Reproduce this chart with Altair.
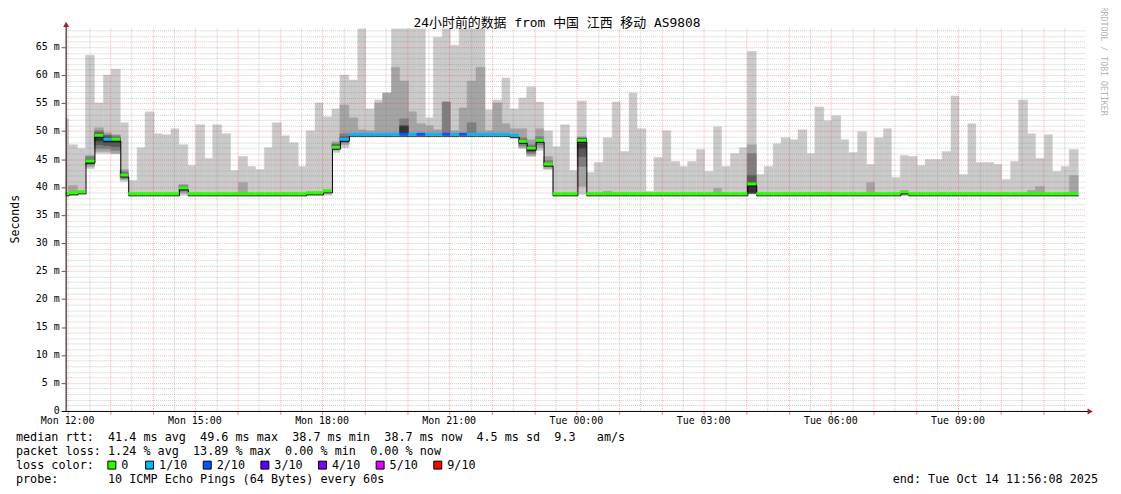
import altair as alt
import pandas as pd

# ---------------- data ----------------
FIRST_BAR_START = -10.5   # minutes after Mon 12:00
BAR_MINUTES = 12

smoke_hi = [
    52.2, 47.6, 46.9, 63.6, 55.0, 60.1, 61.0, 51.5, 41.2, 47.1,
    53.5, 49.6, 49.4, 50.4, 47.5, 43.8, 51.2, 45.1, 51.2, 49.6,
    43.0, 45.5, 43.6, 43.2, 47.0, 51.5, 49.2, 48.0, 43.6, 50.1,
    55.0, 52.6, 53.9, 60.1, 59.2, 68.4, 54.0, 55.6, 56.9, 68.4,
    68.4, 68.4, 68.4, 52.4, 66.8, 68.4, 65.4, 68.4, 68.4, 68.4,
    53.8, 55.6, 59.5, 54.0, 56.0, 57.9, 55.3, 50.1, 47.3, 51.1,
    43.0, 55.4, 42.7, 44.4, 48.8, 55.3, 46.4, 56.8, 50.5, 39.3,
    45.2, 50.0, 44.6, 43.6, 44.5, 46.7, 42.8, 50.7, 43.6, 46.0,
    47.0, 64.2, 42.3, 43.7, 47.8, 48.8, 48.5, 50.3, 45.9, 54.4,
    51.9, 52.8, 48.5, 46.2, 49.9, 44.0, 48.9, 50.4, 41.7, 45.7,
    45.4, 43.9, 45.0, 45.0, 46.4, 56.3, 42.3, 51.4, 44.4, 44.4,
    44.0, 41.4, 44.6, 55.6, 49.6, 45.1, 49.4, 42.8, 43.7, 46.7,
]

smoke_lo = [
    38.6, 38.6, 38.8, 43.3, 46.0, 45.9, 46.0, 41.0, 38.6, 38.6,
    38.6, 38.6, 38.6, 38.6, 38.6, 38.6, 38.6, 38.6, 38.6, 38.6,
    38.6, 38.6, 38.6, 38.6, 38.6, 38.6, 38.6, 38.6, 38.6, 38.6,
    38.6, 38.6, 46.1, 47.0, 49.1, 49.1, 49.1, 49.1, 49.1, 49.1,
    49.1, 49.1, 49.1, 49.1, 49.1, 49.1, 49.1, 49.1, 49.1, 49.1,
    49.1, 49.1, 49.1, 48.6, 46.8, 45.4, 46.6, 43.1, 38.6, 38.6,
    38.6, 38.7, 38.6, 38.6, 38.6, 38.6, 38.6, 38.6, 38.6, 38.6,
    38.6, 38.6, 38.6, 38.6, 38.6, 38.6, 38.6, 38.6, 38.6, 38.6,
    38.6, 38.7, 38.6, 38.6, 38.6, 38.6, 38.6, 38.6, 38.6, 38.6,
    38.6, 38.6, 38.6, 38.6, 38.6, 38.6, 38.6, 38.6, 38.6, 38.6,
    38.6, 38.6, 38.6, 38.6, 38.6, 38.6, 38.6, 38.6, 38.6, 38.6,
    38.6, 38.6, 38.6, 38.6, 38.6, 38.6, 38.6, 38.6, 38.6, 38.6,
]

median_rtt = [
    38.9, 39.0, 39.2, 44.7, 49.3, 48.7, 48.6, 42.3, 38.9, 38.9,
    38.9, 38.9, 38.9, 38.9, 40.0, 38.8, 38.8, 38.8, 38.8, 38.8,
    38.8, 38.8, 38.8, 38.8, 38.8, 38.8, 38.8, 38.8, 38.9, 39.0,
    39.0, 39.5, 47.3, 48.6, 49.6, 49.6, 49.6, 49.6, 49.6, 49.6,
    49.6, 49.6, 49.6, 49.6, 49.6, 49.6, 49.6, 49.6, 49.6, 49.6,
    49.5, 49.5, 49.5, 49.3, 48.3, 47.0, 48.5, 44.3, 38.9, 38.9,
    38.9, 48.5, 38.8, 38.8, 38.8, 38.8, 38.8, 38.8, 38.8, 38.8,
    38.8, 38.8, 38.8, 38.8, 38.8, 38.8, 38.8, 38.8, 38.8, 38.8,
    38.8, 40.7, 38.8, 38.8, 38.8, 38.8, 38.8, 38.8, 38.8, 38.8,
    38.8, 38.8, 38.8, 38.8, 38.8, 38.8, 38.8, 38.8, 38.8, 39.3,
    38.8, 38.8, 38.8, 38.8, 38.8, 38.8, 38.8, 38.8, 38.8, 38.8,
    38.8, 38.8, 38.8, 38.8, 38.8, 38.8, 38.8, 38.8, 38.8, 38.8,
]

loss_idx = [
    0, 0, 0, 0, 0, 1, 0, 0, 0, 0,
    0, 0, 0, 0, 0, 0, 0, 0, 0, 0,
    0, 0, 0, 0, 0, 0, 0, 0, 0, 0,
    0, 0, 0, 1, 1, 1, 1, 1, 1, 1,
    2, 1, 2, 1, 1, 2, 1, 2, 1, 1,
    1, 1, 1, 1, 0, 0, 0, 0, 0, 0,
    0, 0, 0, 0, 0, 0, 0, 0, 0, 0,
    0, 0, 0, 0, 0, 0, 0, 0, 0, 0,
    0, 0, 0, 0, 0, 0, 0, 0, 0, 0,
    0, 0, 0, 0, 0, 0, 0, 0, 0, 0,
    0, 0, 0, 0, 0, 0, 0, 0, 0, 0,
    0, 0, 0, 0, 0, 0, 0, 0, 0, 0,
]

# darker smoke layers (bar index, layer, low, high)
dark_bar = [1, 3, 3, 3, 4, 4, 4, 4, 5, 5, 5, 5, 6, 6, 6, 6, 7, 7, 7, 14, 14, 21,
            32, 32, 32, 33, 33, 33, 34, 35, 36, 37, 38, 39, 40, 40, 40, 41, 42, 43,
            44, 45, 45, 46, 47, 48, 48, 49, 50, 51, 52, 53, 54, 54, 54, 55, 55, 55,
            56, 56, 57, 57, 61, 61, 61, 61, 64, 77, 81, 81, 81, 81, 89, 90, 95, 99,
            114, 115, 119]
dark_level = [2, 2, 3, 4, 2, 3, 4, 5, 2, 3, 4, 5, 2, 3, 4, 5, 2, 3, 4, 2, 3, 2,
              2, 3, 4, 2, 3, 4, 2, 2, 2, 2, 2, 2, 2, 3, 5, 2, 2, 2,
              2, 2, 3, 2, 2, 2, 3, 2, 2, 2, 2, 2, 2, 3, 4, 2, 3, 4,
              2, 3, 2, 3, 2, 3, 4, 5, 2, 2, 2, 3, 4, 5, 2, 2, 2, 2,
              2, 2, 2]
dark_lo = [38.8, 43.7, 44.0, 44.3, 46.3, 46.8, 47.6, 48.3, 46.3, 46.8, 47.4, 48.0,
           46.0, 46.6, 47.3, 48.0, 41.3, 41.6, 41.9, 38.8, 39.3, 38.8,
           46.5, 46.8, 47.0, 47.6, 47.9, 48.2, 49.1, 49.2, 49.2, 49.2, 49.2, 49.3,
           49.3, 49.4, 49.5, 49.3, 49.3, 49.3,
           49.3, 49.3, 49.4, 49.3, 49.3, 49.3, 49.4, 49.3, 49.3, 49.3, 49.3, 48.9,
           47.0, 47.4, 47.8, 45.6, 46.0, 46.4,
           47.0, 47.5, 43.4, 43.7, 40.2, 43.6, 45.5, 46.8, 38.8, 38.8, 38.9, 39.0,
           39.0, 38.9, 38.8, 38.8, 38.8, 38.6,
           38.8, 38.8, 38.8]
dark_hi = [40.3, 45.7, 45.4, 45.0, 50.6, 50.1, 49.7, 49.3, 49.8, 49.4, 49.1, 48.8,
           49.4, 49.1, 48.9, 48.7, 43.2, 42.8, 42.5, 40.5, 40.3, 40.8,
           48.2, 47.8, 47.5, 54.7, 49.5, 49.0, 52.3, 50.3, 50.0, 55.0, 56.8, 61.4,
           59.0, 52.2, 51.0, 53.5, 51.4, 51.0,
           50.3, 55.3, 55.3, 50.0, 54.2, 59.0, 51.5, 61.5, 50.0, 55.0, 51.4, 50.5,
           50.5, 48.8, 48.5, 48.5, 47.6, 47.3,
           50.5, 49.0, 45.5, 44.8, 49.0, 48.8, 48.7, 48.6, 39.3, 39.8, 47.5, 46.0,
           42.0, 40.6, 39.1, 39.1, 40.8, 39.3,
           39.4, 40.1, 42.1]

loss_labels = ["0", "1/10", "2/10", "3/10", "4/10", "5/10", "9/10"]
loss_colors = ["#26ff00", "#00b8ff", "#0059ff", "#5e00ff", "#7e00ff", "#dd00ff", "#ff0000"]
smoke_colors = {1: "#cacaca", 2: "#a4a4a4", 3: "#7e7e7e", 4: "#585858", 5: "#323232"}

x_tick_minutes = [0, 180, 360, 540, 720, 900, 1080, 1260]
x_tick_labels = ["Mon 12:00", "Mon 15:00", "Mon 18:00", "Mon 21:00",
                 "Tue 00:00", "Tue 03:00", "Tue 06:00", "Tue 09:00"]
y_tick_values = [0, 5, 10, 15, 20, 25, 30, 35, 40, 45, 50, 55, 60, 65]

title_text = "24小时前的数据 from 中国 江西 移动 AS9808"
stats_median = "median rtt:  41.4 ms avg  49.6 ms max  38.7 ms min  38.7 ms now  4.5 ms sd  9.3   am/s"
stats_loss = "packet loss: 1.24 % avg  13.89 % max  0.00 % min  0.00 % now"
loss_head = "loss color:"
probe_text = "probe:       10 ICMP Echo Pings (64 Bytes) every 60s"
end_text = "end: Tue Oct 14 11:56:08 2025"
side_text = "RRDTOOL / TOBI OETIKER"

# ---------------- layout constants ----------------
W, H = 1024, 385
PAD_L, PAD_T = 58, 19
MONO = "DejaVu Sans Mono"
TITLE_FONT = "DejaVu Sans Mono, Noto Sans CJK SC"
FS = 11.86

XS = alt.Scale(domain=[-3.3, 1436.7], nice=False, zero=False, round=True)
YS = alt.Scale(domain=[0, 68.36], nice=False, zero=False, round=True)


def nb(s):
    return s.replace(" ", "\u00a0")


n = len(smoke_hi)
starts = [FIRST_BAR_START + BAR_MINUTES * i for i in range(n)]
bars = pd.DataFrame({
    "start": starts,
    "end": [s + BAR_MINUTES for s in starts],
    "lo": smoke_lo,
    "hi": smoke_hi,
    "med": median_rtt,
    "loss": [loss_labels[i] for i in loss_idx],
})
dark = pd.DataFrame({
    "start": [starts[b] for b in dark_bar],
    "end": [starts[b] + BAR_MINUTES for b in dark_bar],
    "lo": dark_lo, "hi": dark_hi, "level": dark_level,
})
steps = pd.DataFrame({"t": starts + [starts[-1] + BAR_MINUTES],
                      "med": median_rtt + [median_rtt[-1]]})

layers = []

# smoke
layers.append(alt.Chart(bars).mark_rect(fill=smoke_colors[1], stroke=smoke_colors[1],
                                        strokeWidth=0.5, clip=True).encode(
    x=alt.X("start:Q", scale=XS, axis=None), x2="end:Q",
    y=alt.Y("lo:Q", scale=YS, axis=None), y2="hi:Q"))
for lev in [2, 3, 4, 5]:
    d = dark[dark["level"] == lev]
    layers.append(alt.Chart(d).mark_rect(fill=smoke_colors[lev], stroke=smoke_colors[lev],
                                         strokeWidth=0.5, clip=True).encode(
        x=alt.X("start:Q", scale=XS, axis=None), x2="end:Q",
        y=alt.Y("lo:Q", scale=YS, axis=None), y2="hi:Q"))

# grid
minor_v = [30 + 60 * k for k in range(24)]
major_v = [60 * k for k in range(24)]
minor_h = [v for v in range(1, 69) if v % 5 != 0]
major_h = list(range(5, 68, 5))

layers.append(alt.Chart(pd.DataFrame({"t": minor_v})).mark_rule(
    stroke="#808080", opacity=0.4, strokeDash=[1, 1], strokeWidth=1, xOffset=0.5).encode(
    x=alt.X("t:Q", scale=XS, axis=None)))
layers.append(alt.Chart(pd.DataFrame({"v": minor_h})).mark_rule(
    stroke="#808080", opacity=0.4, strokeDash=[1, 1], strokeWidth=1, yOffset=0.5).encode(
    y=alt.Y("v:Q", scale=YS, axis=None), x=alt.value(1), x2=alt.value(W + 3)))
layers.append(alt.Chart(pd.DataFrame({"t": major_v})).mark_rule(
    stroke="#ff2020", opacity=0.35, strokeDash=[1, 1], strokeWidth=1, xOffset=0.5).encode(
    x=alt.X("t:Q", scale=XS, axis=None)))
layers.append(alt.Chart(pd.DataFrame({"v": major_h})).mark_rule(
    stroke="#ff2020", opacity=0.35, strokeDash=[1, 1], strokeWidth=1, yOffset=0.5).encode(
    y=alt.Y("v:Q", scale=YS, axis=None), x=alt.value(1), x2=alt.value(W + 3)))

# median line (black step) and loss-coloured median segments
layers.append(alt.Chart(steps).mark_line(
    color="#000000", strokeWidth=1, interpolate="step-after", clip=True,
    xOffset=0.5, yOffset=2.5).encode(
    x=alt.X("t:Q", scale=XS, axis=None), y=alt.Y("med:Q", scale=YS, axis=None)))
layers.append(alt.Chart(bars).mark_rule(strokeWidth=3, clip=True, yOffset=0.5).encode(
    x=alt.X("start:Q", scale=XS, axis=None), x2="end:Q",
    y=alt.Y("med:Q", scale=YS, axis=None),
    color=alt.Color("loss:N", scale=alt.Scale(domain=loss_labels, range=loss_colors),
                    legend=None)))

one = pd.DataFrame({"k": [0]})

# axes lines and arrows
layers.append(alt.Chart(one).mark_rule(color="#000000", strokeWidth=1).encode(
    x=alt.value(0.5), y=alt.value(-3), y2=alt.value(H + 1)))
layers.append(alt.Chart(one).mark_rule(color="#000000", strokeWidth=1).encode(
    x=alt.value(-4), x2=alt.value(W + 5), y=alt.value(H + 0.5)))
layers.append(alt.Chart(one).mark_point(shape="triangle-up", filled=True, color="#a02020",
                                        opacity=1, size=36).encode(
    x=alt.value(0.5), y=alt.value(-4)))
layers.append(alt.Chart(one).mark_point(shape="triangle-right", filled=True, color="#a02020",
                                        opacity=1, size=36).encode(
    x=alt.value(W + 7), y=alt.value(H + 0.5)))

# ticks
layers.append(alt.Chart(pd.DataFrame({"t": major_v})).mark_rule(
    stroke="#ff0000", opacity=0.5, strokeWidth=1, xOffset=0.5).encode(
    x=alt.X("t:Q", scale=XS, axis=None), y=alt.value(H + 1), y2=alt.value(H + 4)))
layers.append(alt.Chart(pd.DataFrame({"v": y_tick_values[1:]})).mark_rule(
    stroke="#555555", strokeWidth=1, yOffset=0.5).encode(
    y=alt.Y("v:Q", scale=YS, axis=None), x=alt.value(-4), x2=alt.value(0)))

# axis labels
xl = pd.DataFrame({"t": x_tick_minutes, "lab": x_tick_labels})
layers.append(alt.Chart(xl).mark_text(font=MONO, fontSize=10, align="center",
                                      baseline="middle", color="#000000").encode(
    x=alt.X("t:Q", scale=XS, axis=None), y=alt.value(H + 10), text="lab:N"))
yl = pd.DataFrame({"v": y_tick_values,
                   "lab": [("0\u00a0\u00a0" if v == 0 else f"{v}\u00a0m") for v in y_tick_values]})
layers.append(alt.Chart(yl).mark_text(font=MONO, fontSize=10, align="right",
                                      baseline="middle", color="#000000").encode(
    y=alt.Y("v:Q", scale=YS, axis=None), x=alt.value(-6), text="lab:N"))


def label(text, x, y, size=FS, align="left", angle=0, color="#000000", font=MONO):
    return alt.Chart(pd.DataFrame({"s": [nb(text)]})).mark_text(
        font=font, fontSize=size, align=align, baseline="middle",
        angle=angle, color=color).encode(text="s:N", x=alt.value(x), y=alt.value(y))


def rx(real_x):
    return real_x - PAD_L - 8


def ry(real_y):
    return real_y - PAD_T - 8


layers.append(label(title_text, rx(560.5), ry(21.5), size=13, align="center", font=TITLE_FONT))
layers.append(label("Seconds", rx(16), ry(219), size=11.6, angle=270, align="center"))
layers.append(label(side_text, rx(1110), ry(60), size=8.3, angle=90, align="center",
                    color="#b4b4b4"))

layers.append(label(stats_median, rx(16), ry(438)))
layers.append(label(stats_loss, rx(16), ry(452)))
layers.append(label(loss_head, rx(16), ry(466)))
square_x = [108, 146, 204, 262, 320, 378, 436]
for lab, col, sx in zip(loss_labels, loss_colors, square_x):
    layers.append(alt.Chart(one).mark_rect(fill=col, stroke="#000000", strokeWidth=1).encode(
        x=alt.value(rx(sx) + 0.5), x2=alt.value(rx(sx) + 8.5),
        y=alt.value(ry(462) + 0.5), y2=alt.value(ry(462) + 8.5)))
    layers.append(label(lab, rx(sx + 14), ry(466)))
layers.append(label(probe_text, rx(16), ry(480)))
layers.append(label(end_text, rx(1105), ry(480), align="right"))

chart = alt.layer(*layers).properties(
    width=W, height=H,
    padding={"left": PAD_L, "top": PAD_T, "right": 30, "bottom": 74},
    autosize=alt.AutoSizeParams(type="none"),
    background="#ffffff",
).configure_view(stroke=None)

chart.save("out.html", embed_options={"renderer": "svg", "actions": False})
